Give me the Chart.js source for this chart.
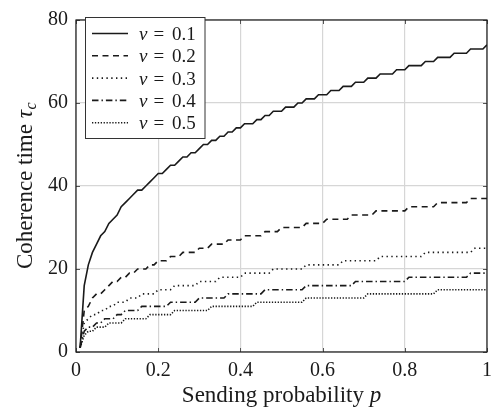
<!DOCTYPE html>
<html>
<head>
<meta charset="utf-8">
<script src="https://cdn.jsdelivr.net/npm/chart.js@4/dist/chart.umd.min.js"></script>
<style>
  body { margin: 0; background: #fff; }
  #wrap { width: 502px; height: 415px; }
</style>
</head>
<body>
<div id="wrap"><canvas id="tauChart" width="502" height="415"></canvas></div>
<script>
// sending probability p (x axis samples)
const pValues = [
  0.01,0.02,0.03,0.04,0.05,0.06,0.07,0.08,0.09,0.10,
  0.11,0.12,0.13,0.14,0.15,0.16,0.17,0.18,0.19,0.20,
  0.21,0.22,0.23,0.24,0.25,0.26,0.27,0.28,0.29,0.30,
  0.31,0.32,0.33,0.34,0.35,0.36,0.37,0.38,0.39,0.40,
  0.41,0.42,0.43,0.44,0.45,0.46,0.47,0.48,0.49,0.50,
  0.51,0.52,0.53,0.54,0.55,0.56,0.57,0.58,0.59,0.60,
  0.61,0.62,0.63,0.64,0.65,0.66,0.67,0.68,0.69,0.70,
  0.71,0.72,0.73,0.74,0.75,0.76,0.77,0.78,0.79,0.80,
  0.81,0.82,0.83,0.84,0.85,0.86,0.87,0.88,0.89,0.90,
  0.91,0.92,0.93,0.94,0.95,0.96,0.97,0.98,0.99,1.00
];

// coherence time tau_c for each v
const tauV01 = [
  1,16,21,24,26,28,29,31,32,33,
  35,36,37,38,39,39,40,41,42,43,
  43,44,45,45,46,47,47,48,48,49,
  50,50,51,51,52,52,53,53,54,54,
  55,55,55,56,56,57,57,58,58,58,
  59,59,59,60,60,61,61,61,62,62,
  62,63,63,63,64,64,64,65,65,65,
  66,66,66,67,67,67,67,68,68,68,
  69,69,69,69,70,70,70,71,71,71,
  71,72,72,72,72,73,73,73,73,74
];
const tauV02 = [
  1,10,11,13,14,14,15,16,17,17,
  18,18,19,19,20,20,20,21,21,22,
  22,22,23,23,23,24,24,24,24,25,
  25,25,26,26,26,26,27,27,27,27,
  28,28,28,28,28,29,29,29,29,30,
  30,30,30,30,30,31,31,31,31,31,
  32,32,32,32,32,32,33,33,33,33,
  33,33,34,34,34,34,34,34,34,34,
  35,35,35,35,35,35,35,36,36,36,
  36,36,36,36,36,37,37,37,37,37
];
const tauV03 = [
  1,7,8,9,9,10,10,11,11,12,
  12,12,13,13,13,14,14,14,14,15,
  15,15,15,16,16,16,16,16,16,17,
  17,17,17,17,18,18,18,18,18,18,
  19,19,19,19,19,19,19,20,20,20,
  20,20,20,20,20,21,21,21,21,21,
  21,21,21,21,22,22,22,22,22,22,
  22,22,22,23,23,23,23,23,23,23,
  23,23,23,23,24,24,24,24,24,24,
  24,24,24,24,24,24,25,25,25,25
];
const tauV04 = [
  1,5,6,6,7,7,8,8,8,9,
  9,10,10,10,10,11,11,11,11,11,
  11,11,12,12,12,12,12,12,12,13,
  13,13,13,13,13,13,14,14,14,14,
  14,14,14,14,14,15,15,15,15,15,
  15,15,15,15,15,16,16,16,16,16,
  16,16,16,16,16,16,16,17,17,17,
  17,17,17,17,17,17,17,17,17,17,
  18,18,18,18,18,18,18,18,18,18,
  18,18,18,18,18,19,19,19,19,19
];
const tauV05 = [
  1,4,5,5,6,6,6,7,7,7,
  7,8,8,8,8,8,8,9,9,9,
  9,9,9,10,10,10,10,10,10,10,
  10,10,11,11,11,11,11,11,11,11,
  11,11,11,12,12,12,12,12,12,12,
  12,12,12,12,12,13,13,13,13,13,
  13,13,13,13,13,13,13,13,13,13,
  14,14,14,14,14,14,14,14,14,14,
  14,14,14,14,14,14,14,15,15,15,
  15,15,15,15,15,15,15,15,15,15
];

const vLabels = ['0.1', '0.2', '0.3', '0.4', '0.5'];
const xTicks = [0, 0.2, 0.4, 0.6, 0.8, 1];
const yTicks = [0, 20, 40, 60, 80];

const serif = '"Liberation Serif", "Times New Roman", serif';
const ink = '#1a1a1a';

const seriesList = [tauV01, tauV02, tauV03, tauV04, tauV05];
const dashList = [[], [6, 4.5], [1.4, 3.4], [6.5, 3, 1.4, 3], [1.3, 1.6]];

const datasets = seriesList.map((vals, i) => ({
  label: 'v = ' + vLabels[i],
  data: pValues.map((p, j) => ({ x: p, y: vals[j] })),
  borderColor: ink,
  borderWidth: 1.6,
  borderDash: dashList[i],
  pointRadius: 0,
  tension: 0,
  fill: false
}));

// frame, inner ticks, axis titles and legend box
const paperPlugin = {
  id: 'paper',
  afterDatasetsDraw(chart) {
    const { ctx, chartArea: a, scales } = chart;
    ctx.save();
    // inward ticks
    ctx.strokeStyle = '#555';
    ctx.lineWidth = 1;
    ctx.beginPath();
    xTicks.forEach(t => {
      const x = Math.round(scales.x.getPixelForValue(t)) + 0.5;
      ctx.moveTo(x, a.bottom); ctx.lineTo(x, a.bottom - 4);
      ctx.moveTo(x, a.top); ctx.lineTo(x, a.top + 4);
    });
    yTicks.forEach(t => {
      const y = Math.round(scales.y.getPixelForValue(t)) + 0.5;
      ctx.moveTo(a.left, y); ctx.lineTo(a.left + 4, y);
      ctx.moveTo(a.right, y); ctx.lineTo(a.right - 4, y);
    });
    ctx.stroke();
    // frame
    ctx.strokeStyle = '#1a1a1a';
    ctx.lineWidth = 1.2;
    ctx.strokeRect(a.left, a.top, a.right - a.left, a.bottom - a.top);

    // legend
    const bx = 85.5, by = 17.5, bw = 119.5, bh = 121;
    ctx.fillStyle = '#fff';
    ctx.fillRect(bx, by, bw, bh);
    ctx.strokeStyle = '#333';
    ctx.lineWidth = 1;
    ctx.strokeRect(bx, by, bw, bh);
    chart.data.datasets.forEach((ds, i) => {
      const ry = 33.5 + i * 22.3;
      ctx.strokeStyle = ds.borderColor;
      ctx.lineWidth = ds.borderWidth;
      ctx.setLineDash(ds.borderDash);
      ctx.beginPath();
      ctx.moveTo(92, ry); ctx.lineTo(128, ry);
      ctx.stroke();
      ctx.setLineDash([]);
      ctx.fillStyle = ink;
      ctx.textBaseline = 'alphabetic';
      ctx.textAlign = 'left';
      ctx.font = 'italic 19px ' + serif;
      ctx.fillText('v', 139, ry + 6.5);
      ctx.font = '19px ' + serif;
      ctx.fillText('=', 153.5, ry + 6.5);
      ctx.fillText(vLabels[i], 172, ry + 6.5);
    });

    // x title
    ctx.fillStyle = ink;
    ctx.textBaseline = 'alphabetic';
    ctx.textAlign = 'left';
    const xa = 'Sending probability ';
    ctx.font = '23px ' + serif;
    const wa = ctx.measureText(xa).width;
    ctx.font = 'italic 23px ' + serif;
    const wp = ctx.measureText('p').width;
    let sx = (a.left + a.right) / 2 - (wa + wp) / 2;
    ctx.font = '23px ' + serif;
    ctx.fillText(xa, sx, 401.5);
    ctx.font = 'italic 23px ' + serif;
    ctx.fillText('p', sx + wa, 401.5);

    // y title
    ctx.translate(32, (a.top + a.bottom) / 2);
    ctx.rotate(-Math.PI / 2);
    const ya = 'Coherence time ';
    ctx.font = '23px ' + serif;
    const wy = ctx.measureText(ya).width;
    ctx.font = 'italic 23px ' + serif;
    const wt = ctx.measureText('\u03C4').width;
    ctx.font = 'italic 16px ' + serif;
    const wc = ctx.measureText('c').width;
    let sy = -(wy + wt + wc) / 2;
    ctx.font = '23px ' + serif;
    ctx.fillText(ya, sy, 0);
    ctx.font = 'italic 23px ' + serif;
    ctx.fillText('\u03C4', sy + wy, 0);
    ctx.font = 'italic 16px ' + serif;
    ctx.fillText('c', sy + wy + wt + 0.5, 4);
    ctx.restore();
  }
};

const ctx = document.getElementById('tauChart').getContext('2d');
const tauChart = new Chart(ctx, {
  type: 'line',
  data: { datasets: datasets },
  options: {
    responsive: false,
    animation: false,
    events: [],
    layout: { padding: { left: 0, right: 15, top: 11, bottom: 0 } },
    plugins: {
      legend: { display: false },
      tooltip: { enabled: false }
    },
    scales: {
      x: {
        type: 'linear',
        min: 0,
        max: 1,
        afterFit(scale) { scale.height = 63; },
        afterBuildTicks(scale) { scale.ticks = xTicks.map(v => ({ value: v })); },
        grid: { color: '#d6d6d6', lineWidth: 1.2, drawTicks: false },
        border: { display: false },
        ticks: {
          color: ink,
          padding: 7,
          font: { family: serif, size: 20 },
          callback: v => String(v)
        }
      },
      y: {
        type: 'linear',
        min: 0,
        max: 80,
        afterFit(scale) { scale.width = 76; },
        afterBuildTicks(scale) { scale.ticks = yTicks.map(v => ({ value: v })); },
        grid: { color: '#d6d6d6', lineWidth: 1.2, drawTicks: false },
        border: { display: false },
        ticks: {
          color: ink,
          padding: 8,
          font: { family: serif, size: 20 },
          callback: v => String(v)
        }
      }
    }
  },
  plugins: [paperPlugin]
});
</script>
</body>
</html>
